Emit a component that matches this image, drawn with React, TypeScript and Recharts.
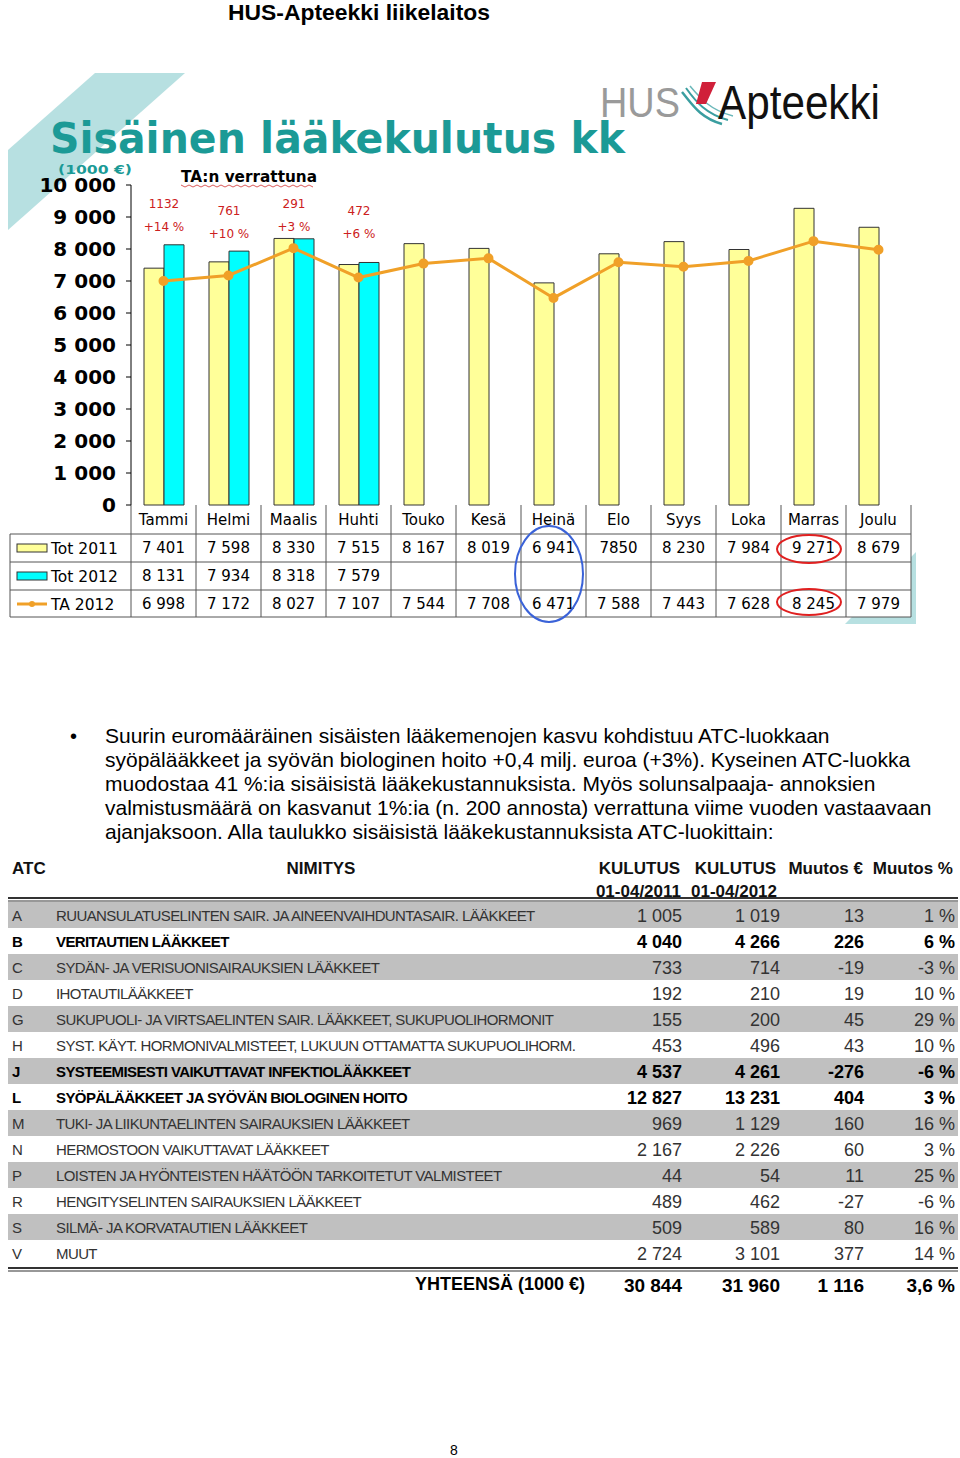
import React from 'react';
import { ComposedChart, Bar, Line, XAxis, YAxis, LabelList } from 'recharts';

// ---------- chart data ----------
const months = ['Tammi', 'Helmi', 'Maalis', 'Huhti', 'Touko', 'Kesä', 'Heinä', 'Elo', 'Syys', 'Loka', 'Marras', 'Joulu'];
const tot2011 = [7401, 7598, 8330, 7515, 8167, 8019, 6941, 7850, 8230, 7984, 9271, 8679];
const tot2012: (number | null)[] = [8131, 7934, 8318, 7579, null, null, null, null, null, null, null, null];
const ta2012 = [6998, 7172, 8027, 7107, 7544, 7708, 6471, 7588, 7443, 7628, 8245, 7979];
const tot2011Text = ['7 401', '7 598', '8 330', '7 515', '8 167', '8 019', '6 941', '7850', '8 230', '7 984', '9 271', '8 679'];
const tot2012Text = ['8 131', '7 934', '8 318', '7 579', '', '', '', '', '', '', '', ''];
const ta2012Text = ['6 998', '7 172', '8 027', '7 107', '7 544', '7 708', '6 471', '7 588', '7 443', '7 628', '8 245', '7 979'];
const diffVsBudget: (string | null)[] = ['1132', '761', '291', '472', null, null, null, null, null, null, null, null];
const pctVsBudget: (string | null)[] = ['+14 %', '+10 %', '+3 %', '+6 %', null, null, null, null, null, null, null, null];
const yTicks = [0, 1000, 2000, 3000, 4000, 5000, 6000, 7000, 8000, 9000, 10000];
const seriesNames = ['Tot 2011', 'Tot 2012', 'TA 2012'];

// ---------- text ----------
const bulletLines = [
  'Suurin euromääräinen sisäisten lääkemenojen kasvu kohdistuu ATC-luokkaan',
  'syöpälääkkeet ja syövän biologinen hoito +0,4 milj. euroa (+3%). Kyseinen ATC-luokka',
  'muodostaa 41 %:ia sisäisistä lääkekustannuksista. Myös solunsalpaaja- annoksien',
  'valmistusmäärä on kasvanut 1%:ia (n. 200 annosta) verrattuna viime vuoden vastaavaan',
  'ajanjaksoon. Alla taulukko sisäisistä lääkekustannuksista ATC-luokittain:',
];

// ---------- ATC table data ----------
const atcCodes = ['A', 'B', 'C', 'D', 'G', 'H', 'J', 'L', 'M', 'N', 'P', 'R', 'S', 'V'];
const atcNames = [
  'RUUANSULATUSELINTEN SAIR. JA AINEENVAIHDUNTASAIR. LÄÄKKEET',
  'VERITAUTIEN LÄÄKKEET',
  'SYDÄN- JA VERISUONISAIRAUKSIEN LÄÄKKEET',
  'IHOTAUTILÄÄKKEET',
  'SUKUPUOLI- JA VIRTSAELINTEN SAIR. LÄÄKKEET, SUKUPUOLIHORMONIT',
  'SYST. KÄYT. HORMONIVALMISTEET, LUKUUN OTTAMATTA SUKUPUOLIHORM.',
  'SYSTEEMISESTI VAIKUTTAVAT INFEKTIOLÄÄKKEET',
  'SYÖPÄLÄÄKKEET JA SYÖVÄN BIOLOGINEN HOITO',
  'TUKI- JA LIIKUNTAELINTEN SAIRAUKSIEN LÄÄKKEET',
  'HERMOSTOON VAIKUTTAVAT LÄÄKKEET',
  'LOISTEN JA HYÖNTEISTEN HÄÄTÖÖN TARKOITETUT VALMISTEET',
  'HENGITYSELINTEN SAIRAUKSIEN LÄÄKKEET',
  'SILMÄ- JA KORVATAUTIEN LÄÄKKEET',
  'MUUT',
];
const kulutus2011 = [1005, 4040, 733, 192, 155, 453, 4537, 12827, 969, 2167, 44, 489, 509, 2724];
const kulutus2012 = [1019, 4266, 714, 210, 200, 496, 4261, 13231, 1129, 2226, 54, 462, 589, 3101];
const muutosEur = [13, 226, -19, 19, 45, 43, -276, 404, 160, 60, 11, -27, 80, 377];
const muutosPct = [1, 6, -3, 10, 29, 10, -6, 3, 16, 3, 25, -6, 16, 14];
const boldCodes = ['B', 'J', 'L'];
const totalsText = ['30 844', '31 960', '1 116', '3,6 %'];

// ---------- styling ----------
const TEAL = '#1b9a96';
const TEAL_LIGHT = '#b7e0e1';
const YELLOW = '#FFFF99';
const CYAN = '#00FFFF';
const ORANGE = '#F0A028';
const GRAY_ROW = '#c0c0c0';

const PLOT_LEFT = 131;
const COL_W = 65;

const fmt = (v: number) => {
  const s = Math.abs(v).toString().replace(/\B(?=(\d{3})+(?!\d))/g, ' ');
  return v < 0 ? '-' + s : s;
};

const chartData = months.map((m, i) => ({
  month: m,
  tot2011: tot2011[i],
  tot2012: tot2012[i],
  ta2012: ta2012[i],
  diff: diffVsBudget[i],
}));

const renderAnno = (props: any) => {
  const { x, y, height, index } = props;
  const v = tot2012[index];
  if (v == null || diffVsBudget[index] == null) return null;
  const base = Number(y) + Number(height);
  const scale = Number(height) / v;
  const top = base - 10000 * scale;
  const off = index % 2 === 0 ? 0 : 7;
  return (
    <g>
      <text x={Number(x)} y={top + 19 + off} textAnchor="middle" dominantBaseline="central" fontSize={12} fill="#cc2020" fontFamily="DejaVu Sans">
        {diffVsBudget[index]}
      </text>
      <text x={Number(x)} y={top + 42 + off} textAnchor="middle" dominantBaseline="central" fontSize={12} fill="#cc2020" fontFamily="DejaVu Sans">
        {pctVsBudget[index]}
      </text>
    </g>
  );
};

const colX = [682, 780, 864, 955];

export default function App() {
  const rowTop = (i: number) => 902 + i * 26;
  return (
    <div style={{ position: 'absolute', left: 0, top: 0, width: 960, height: 1458, background: '#fff', overflow: 'hidden' }}>
      {/* background layer */}
      <svg width={960} height={1458} style={{ position: 'absolute', left: 0, top: 0 }}>
        <text x={228} y={20} fontFamily="Liberation Sans, Arial" fontWeight="bold" fontSize={22} fill="#000" textLength={262} lengthAdjust="spacingAndGlyphs">HUS-Apteekki liikelaitos</text>

        {/* teal decorative shapes */}
        <polygon points="95,73 185,73 8,230 8,150" fill={TEAL_LIGHT} />
        <polygon points="916,552 916,624 845,624" fill={TEAL_LIGHT} />

        {/* logo */}
        <text x={600} y={117} fontFamily="Liberation Sans, Arial" fontSize={43} fill="#9a9a9a" textLength={80} lengthAdjust="spacingAndGlyphs">HUS</text>
        <path d="M682,92 C692,104 700,118 722,124" stroke="#3a9ea0" strokeWidth={2.5} fill="none" />
        <path d="M686,88 C696,102 706,114 728,120" stroke="#3a9ea0" strokeWidth={2} fill="none" />
        <path d="M690,86 C700,98 710,110 733,116" stroke="#6bb8ba" strokeWidth={1.5} fill="none" />
        <polygon points="702,82 716,82 706,104 696,104" fill="#d0203a" />
        <text x={718} y={119} fontFamily="Liberation Sans, Arial" fontSize={48} fill="#111" textLength={162} lengthAdjust="spacingAndGlyphs">Apteekki</text>

        {/* title */}
        <text x={50} y={153} fontFamily="DejaVu Sans" fontWeight="bold" fontSize={43} fill={TEAL} textLength={575} lengthAdjust="spacingAndGlyphs">Sisäinen lääkekulutus kk</text>
        <text x={58} y={174} fontFamily="DejaVu Sans" fontWeight="bold" fontSize={13} fill={TEAL} textLength={74} lengthAdjust="spacingAndGlyphs">(1000 €)</text>
        <text x={181} y={182} fontFamily="DejaVu Sans" fontWeight="bold" fontSize={15} fill="#000" textLength={136} lengthAdjust="spacingAndGlyphs">TA:n verrattuna</text>
        <path d={Array.from({ length: 34 }, (_, k) => `${k === 0 ? 'M' : 'L'}${181 + k * 4},${k % 2 === 0 ? 185 : 187}`).join(' ')} stroke="#d03030" strokeWidth={0.8} fill="none" />

        {/* chart table */}
        <rect x={10} y={505} width={901} height={112} fill="#fff" />
        {[534, 562, 590, 617].map((yy) => (
          <line key={yy} x1={10} x2={911} y1={yy} y2={yy} stroke="#555" strokeWidth={1} />
        ))}
        <line x1={10} x2={10} y1={534} y2={617} stroke="#555" />
        {Array.from({ length: 13 }, (_, k) => (
          <line key={k} x1={PLOT_LEFT + k * COL_W} x2={PLOT_LEFT + k * COL_W} y1={505} y2={617} stroke="#555" />
        ))}
        {months.map((m, i) => (
          <text key={m} x={PLOT_LEFT + COL_W * (i + 0.5)} y={520} textAnchor="middle" dominantBaseline="central" fontFamily="DejaVu Sans" fontSize={15} fill="#000">{m}</text>
        ))}
        {[tot2011Text, tot2012Text, ta2012Text].map((row, r) =>
          row.map((t, i) => (
            <text key={`${r}-${i}`} x={PLOT_LEFT + COL_W * (i + 0.5)} y={548 + r * 28} textAnchor="middle" dominantBaseline="central" fontFamily="DejaVu Sans" fontSize={15} fill="#000">{t}</text>
          ))
        )}
        <rect x={17} y={544} width={30} height={8} fill={YELLOW} stroke="#333" />
        <rect x={17} y={572} width={30} height={8} fill={CYAN} stroke="#333" />
        <line x1={17} x2={47} y1={604} y2={604} stroke={ORANGE} strokeWidth={3} />
        <circle cx={32} cy={604} r={3} fill={ORANGE} />
        {seriesNames.map((s, r) => (
          <text key={s} x={51} y={549 + r * 28} dominantBaseline="central" fontFamily="DejaVu Sans" fontSize={15.5} fill="#000">{s}</text>
        ))}

        {/* bullet text */}
        <text x={70} y={736} dominantBaseline="central" fontFamily="Liberation Sans, Arial" fontSize={20} fill="#000">•</text>
        {bulletLines.map((l, i) => (
          <text key={i} x={105} y={735 + i * 24} dominantBaseline="central" fontFamily="Liberation Sans, Arial" fontSize={21} fill="#000">{l}</text>
        ))}

        {/* ATC table header */}
        <g fontFamily="Liberation Sans, Arial" fontWeight="bold" fontSize={17} fill="#111">
          <text x={12} y={868} dominantBaseline="central">ATC</text>
          <text x={321} y={868} dominantBaseline="central" textAnchor="middle">NIMITYS</text>
          <text x={680} y={868} dominantBaseline="central" textAnchor="end">KULUTUS</text>
          <text x={776} y={868} dominantBaseline="central" textAnchor="end">KULUTUS</text>
          <text x={863} y={868} dominantBaseline="central" textAnchor="end">Muutos €</text>
          <text x={953} y={868} dominantBaseline="central" textAnchor="end">Muutos %</text>
          <text x={681} y={891} dominantBaseline="central" textAnchor="end">01-04/2011</text>
          <text x={777} y={891} dominantBaseline="central" textAnchor="end">01-04/2012</text>
        </g>
        <rect x={8} y={897} width={950} height={2} fill="#333" />
        <rect x={8} y={900.5} width={950} height={1} fill="#333" />
        {atcCodes.map((c, i) =>
          i % 2 === 0 ? <rect key={c} x={8} y={rowTop(i)} width={950} height={26} fill={GRAY_ROW} /> : null
        )}
        {atcCodes.map((c, i) => {
          const bold = boldCodes.includes(c);
          const cy = rowTop(i) + 13;
          const fill = bold ? '#000' : '#333';
          const fw = bold ? 'bold' : 'normal';
          const nums = [fmt(kulutus2011[i]), fmt(kulutus2012[i]), fmt(muutosEur[i]), `${muutosPct[i]} %`];
          return (
            <g key={c}>
              <text x={12} y={cy} dominantBaseline="central" fontFamily="Liberation Sans, Arial" fontSize={15} fontWeight={fw} fill={fill}>{c}</text>
              <text x={56} y={cy} dominantBaseline="central" fontFamily="Liberation Sans, Arial" fontSize={15} fontWeight={fw} fill={fill} letterSpacing={-0.6}>{atcNames[i]}</text>
              {nums.map((n, k) => (
                <text key={k} x={colX[k]} y={cy + 1} textAnchor="end" dominantBaseline="central" fontFamily="Liberation Sans, Arial" fontSize={18} fontWeight={fw} fill={fill}>{n}</text>
              ))}
            </g>
          );
        })}
        <rect x={8} y={1267} width={950} height={2} fill="#333" />
        <rect x={8} y={1270.5} width={950} height={1} fill="#333" />
        <text x={585} y={1284} textAnchor="end" dominantBaseline="central" fontFamily="Liberation Sans, Arial" fontSize={18} fontWeight="bold" fill="#000">YHTEENSÄ (1000 €)</text>
        {totalsText.map((t, k) => (
          <text key={k} x={colX[k]} y={1285} textAnchor="end" dominantBaseline="central" fontFamily="Liberation Sans, Arial" fontSize={19} fontWeight="bold" fill="#000">{t}</text>
        ))}

        <text x={454} y={1450} textAnchor="middle" dominantBaseline="central" fontFamily="Liberation Sans, Arial" fontSize={14} fill="#000">8</text>
      </svg>

      {/* chart */}
      <div style={{ position: 'absolute', left: 0, top: 160 }}>
        <ComposedChart width={960} height={360} data={chartData} margin={{ top: 25, right: 49, left: 0, bottom: 15 }} barGap={0} barCategoryGap="20%">
          <XAxis dataKey="month" height={0} tick={false} tickLine={false} axisLine={{ stroke: '#000' }} />
          <YAxis
            width={131}
            domain={[0, 10000]}
            ticks={yTicks}
            interval={0}
            tickFormatter={fmt}
            tick={{ fontSize: 20, fontWeight: 'bold', fill: '#000', fontFamily: 'DejaVu Sans' }}
            axisLine={{ stroke: '#000' }}
            tickLine={{ stroke: '#000' }}
            tickSize={5}
            tickMargin={10}
          />
          <Bar dataKey="tot2011" fill={YELLOW} stroke="#333" strokeWidth={1} isAnimationActive={false} />
          <Bar dataKey="tot2012" fill={CYAN} stroke="#333" strokeWidth={1} isAnimationActive={false}>
            <LabelList dataKey="diff" content={renderAnno} />
          </Bar>
          <Line dataKey="ta2012" stroke={ORANGE} strokeWidth={3} dot={{ r: 3.5, fill: ORANGE, stroke: ORANGE }} isAnimationActive={false} />
        </ComposedChart>
      </div>

      {/* overlay highlights */}
      <svg width={960} height={1458} style={{ position: 'absolute', left: 0, top: 0, pointerEvents: 'none' }}>
        <ellipse cx={809} cy={549} rx={32} ry={14} fill="none" stroke="#e02020" strokeWidth={2} />
        <ellipse cx={809} cy={602} rx={32} ry={13} fill="none" stroke="#e02020" strokeWidth={2} />
        <ellipse cx={549} cy={574} rx={34} ry={48} fill="none" stroke="#3a62d8" strokeWidth={2} />
      </svg>
    </div>
  );
}
